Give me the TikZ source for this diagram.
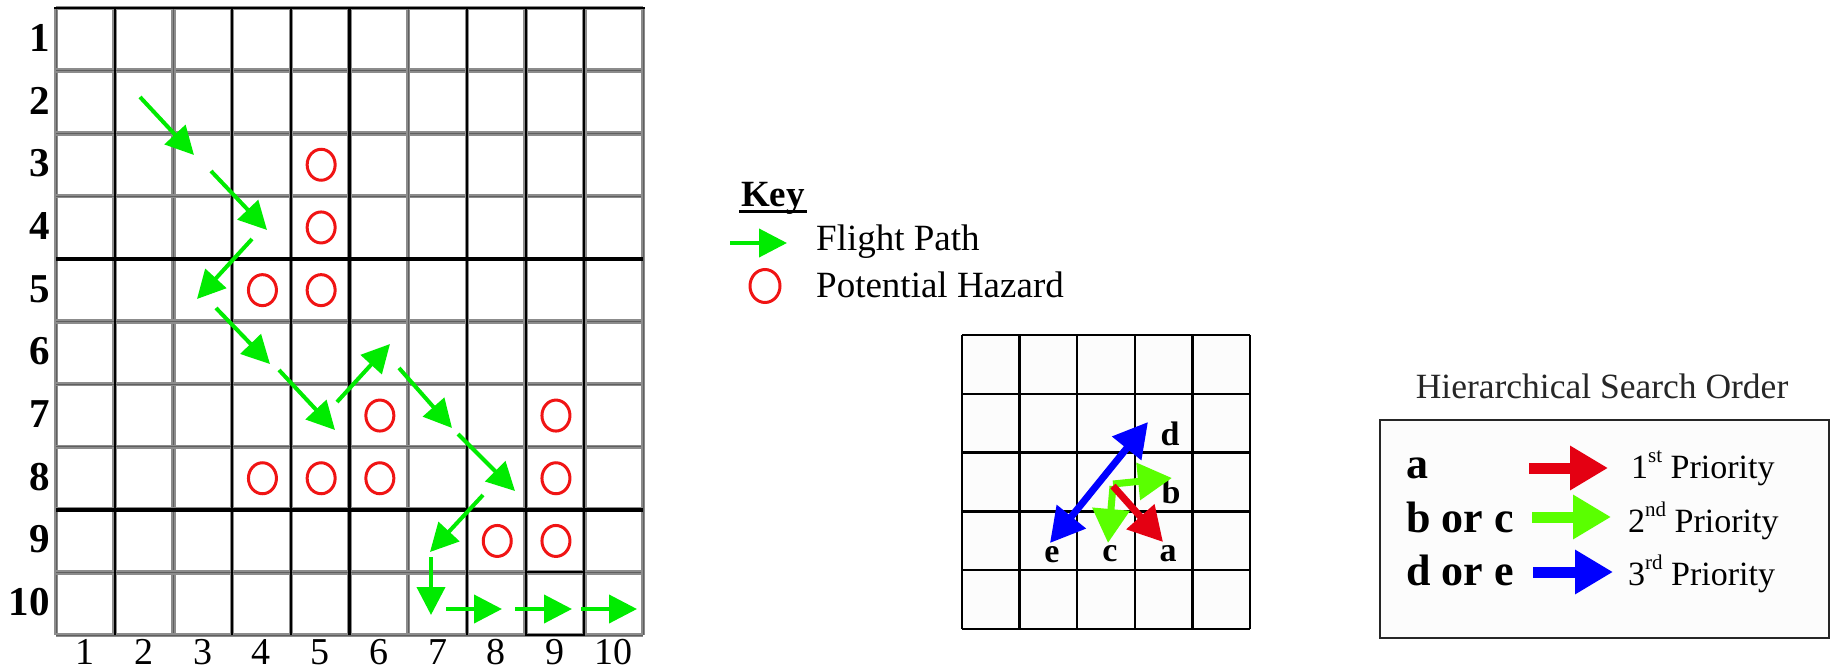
\documentclass[tikz,border=0pt]{standalone}
\usepackage{fontspec}
\setmainfont{Liberation Serif}
\usetikzlibrary{arrows.meta}

\definecolor{flightgreen}{RGB}{0,235,0}
\definecolor{hazardred}{RGB}{240,20,20}
\definecolor{prired}{RGB}{228,0,18}
\definecolor{prigreen}{RGB}{90,255,0}
\definecolor{priblue}{RGB}{0,0,255}
\definecolor{cellgray}{RGB}{140,140,140}
\definecolor{coregray}{RGB}{95,95,95}
\definecolor{paper}{RGB}{252,252,252}

\newcommand\supx[1]{\raisebox{16pt}{\fontsize{21}{21}\selectfont #1}}

\begin{document}
\begin{tikzpicture}[x=1pt,y=-1pt,
  flight/.style={draw=flightgreen, line width=4pt, -{Triangle[length=28pt,width=28pt]}},
  hazard/.style={draw=hazardred, line width=3pt},
  rowlab/.style={inner sep=0pt, anchor=base east, font=\fontsize{41}{49}\selectfont\bfseries},
  collab/.style={inner sep=0pt, anchor=base, font=\fontsize{38}{44}\selectfont},
  keytext/.style={inner sep=0pt, anchor=base west, font=\fontsize{37}{44}\selectfont},
  dirlab/.style={inner sep=0pt, anchor=base, font=\fontsize{34}{40}\selectfont\bfseries},
  prilab/.style={inner sep=0pt, anchor=base west, font=\fontsize{44}{52}\selectfont\bfseries},
  pritext/.style={inner sep=0pt, anchor=base west, font=\fontsize{34}{40}\selectfont},
  priarrow/.style={line width=7pt, -{Triangle[length=34pt,width=36pt]}},
  legarrow/.style={line width=11pt, -{Triangle[length=38pt,width=42pt]}}]

\useasboundingbox (0,0) rectangle (1831,669);

% ---------- main 10 x 10 grid ----------
\foreach \i in {0,...,10} {
  \draw[cellgray, line width=4.5pt] ({56+\i*58.7},8) -- ({56+\i*58.7},635);
  \draw[cellgray, line width=4.5pt] (56,{8+\i*62.7}) -- (643,{8+\i*62.7});
  \draw[coregray, line width=1pt] ({56+\i*58.7},8) -- ({56+\i*58.7},635);
  \draw[coregray, line width=1pt] (56,{8+\i*62.7}) -- (643,{8+\i*62.7});
}
\foreach \i in {1,3,4,5,7,8,9}
  \draw[black, line width=2.2pt] ({56+\i*58.7},8) -- ({56+\i*58.7},635);
\draw[black, line width=2.5pt] (54,8) -- (645,8);
\foreach \i in {4,8}
  \draw[black, line width=4pt] (56,{8+\i*62.7}) -- (643,{8+\i*62.7});
\draw[black, line width=2pt] ({56+8*58.7},{8+9*62.7}) rectangle ({56+9*58.7},635);

% row and column numbers
\foreach \r in {1,...,10}
  \node[rowlab] (row\r) at (50,{8+(\r-0.5)*62.7+12}) {\r};
\foreach \c in {1,...,10}
  \node[collab] (col\c) at ({56+(\c-0.5)*58.7},664) {\c};

% hazards
\foreach \c/\r in {5/3,5/4,4/5,5/5,6/7,9/7,4/8,5/8,6/8,9/8,8/9,9/9}
  \draw[hazard] ({56+(\c-0.5)*58.7+1},{8+(\r-0.5)*62.7}) ellipse [x radius=14, y radius=15.5];

% flight path
\foreach \ax/\ay/\bx/\by in {140/97/194/155, 211/171/267/230, 252/239/197/299,
    216/308/270/364, 279/370/335/430, 337/402/390/344, 399/368/452/428,
    458/434/515/491, 483/495/430/552, 431/557/431/615, 446/609/502/609,
    515/609/572/609, 581/609/637/609}
  \draw[flight] (\ax,\ay) -- (\bx,\by);

% ---------- key ----------
\node[inner sep=0pt, anchor=base west, font=\fontsize{37}{44}\selectfont\bfseries] (key) at (741,206) {Key};
\draw[black, line width=3pt] (739,211) -- (807,211);
\coordinate (fpA) at (730,243);
\coordinate (fpB) at (787,243);
\draw[flight] (fpA) -- (fpB);
\node[keytext] (fptext) at (816,250) {Flight Path};
\draw[hazard] (765,286) ellipse [x radius=15, y radius=16.5];
\node[keytext] (hztext) at (816,297) {Potential Hazard};

% ---------- search neighbourhood ----------
\fill[paper] (962,335) rectangle (1250,629);
\foreach \i in {0,...,5} {
  \draw[black, line width=2.5pt] ({962+\i*57.6},335) -- ({962+\i*57.6},629);
  \draw[black, line width=2.5pt] (962,{335+\i*58.8}) -- (1250,{335+\i*58.8});
}
\node[dirlab] (ld) at (1170,445) {d};
\node[dirlab] (lb) at (1171,503) {b};
\node[dirlab] (le) at (1052,562) {e};
\node[dirlab] (lc) at (1110,561) {c};
\node[dirlab] (la) at (1168,561) {a};

\coordinate (ctr) at (1113,486);
\draw[priarrow, prigreen] (1113,484) -- (1172,478);
\draw[priarrow, prigreen] (ctr) -- (1108,543);
\draw[priarrow, prired] (ctr) -- (1163,542);
\draw[priblue, line width=7pt, {Triangle[length=34pt,width=36pt]}-{Triangle[length=34pt,width=36pt]}] (1050,543) -- (1148,422);

% ---------- priority table ----------
\node[inner sep=0pt, anchor=base, text=black!85, font=\fontsize{35.5}{42}\selectfont] (hso) at (1602,398) {Hierarchical Search Order};
\draw[black!85, line width=2.5pt, fill=paper] (1380,420) rectangle (1829,638);

\node[prilab] (pa) at (1406,478) {a};
\node[prilab] (pbc) at (1406,532) {b or c};
\node[prilab] (pde) at (1406,585) {d or e};

\draw[legarrow, prired] (1529,468) -- (1608,468);
\draw[legarrow, prigreen] (1532,517) -- (1611,517);
\draw[legarrow, priblue] (1533,572) -- (1613,572);

\node[pritext] (p1) at (1631,478) {1\supx{st} Priority};
\node[pritext] (p2) at (1628,532) {2\supx{nd} Priority};
\node[pritext] (p3) at (1628,585) {3\supx{rd} Priority};

\end{tikzpicture}
\end{document}
